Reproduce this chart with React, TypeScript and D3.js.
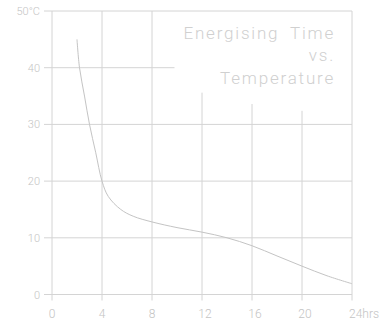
import { useEffect, useRef } from 'react';
import * as d3 from 'd3';

const W = 382, H = 322;
const HOURS = [2, 2.2, 2.6, 3, 3.5, 4, 4.5, 5.5, 6.5, 8, 10, 12, 14, 16, 18, 20, 22, 24];
const TEMPS = [45, 40, 35, 30, 25, 20, 17.3, 15, 13.8, 12.8, 11.8, 11, 10, 8.6, 6.8, 5, 3.3, 1.9];
const X_TICKS = [0, 4, 8, 12, 16, 20, 24];
const X_LABELS = ['0', '4', '8', '12', '16', '20', '24hrs'];
const V_TOPS = [50, 50, 50, 35.6, 33.6, 32.4, 50]; // how far each vertical grid line reaches
const Y_TICKS = [0, 10, 20, 30, 40, 50];
const Y_LABELS = ['0', '10', '20', '30', '40', '50°C'];
const TITLE = ['Energising Time', 'vs.', 'Temperature'];

const GRID = '#d4d4d4', INK = '#c4c4c4';
const FONT = 'Roboto, "DejaVu Sans", sans-serif';

export default function App() {
  const ref = useRef<SVGSVGElement>(null);
  useEffect(() => {
    const svg = d3.select(ref.current); svg.selectAll('*').remove();
    const x = d3.scaleLinear().domain([0, 24]).range([52, 352]);
    const y = d3.scaleLinear().domain([0, 50]).range([294.5, 11]);

    // horizontal grid + left ticks (40 line stops short)
    svg.append('g').selectAll('line').data(Y_TICKS).join('line')
      .attr('x1', x(0) - 8).attr('x2', d => d === 40 ? x(9.8) : x(24))
      .attr('y1', d => y(d)).attr('y2', d => y(d))
      .attr('stroke', GRID).attr('stroke-width', 1);
    // vertical grid + bottom ticks
    svg.append('g').selectAll('line').data(X_TICKS).join('line')
      .attr('x1', d => x(d)).attr('x2', d => x(d))
      .attr('y1', (d, i) => y(V_TOPS[i])).attr('y2', y(0) + 6)
      .attr('stroke', GRID).attr('stroke-width', 1);

    svg.append('g').selectAll('text').data(Y_TICKS).join('text')
      .attr('x', 40).attr('y', d => y(d) + 4).attr('text-anchor', 'end')
      .attr('fill', INK).attr('font-size', 11).attr('font-family', FONT).attr('font-weight', 300)
      .text((d, i) => Y_LABELS[i]);
    svg.append('g').selectAll('text').data(X_TICKS).join('text')
      .attr('x', (d, i) => i === 6 ? x(d) - 3 : x(d) + (d >= 10 ? 3 : 0)).attr('y', 318)
      .attr('text-anchor', (d, i) => i === 6 ? 'start' : 'middle')
      .attr('fill', INK).attr('font-size', 12).attr('font-family', FONT).attr('font-weight', 300)
      .text((d, i) => X_LABELS[i]);

    const line = d3.line<number>().x((d, i) => x(HOURS[i])).y(d => y(d)).curve(d3.curveCatmullRom.alpha(0.5));
    svg.append('path').attr('d', line(TEMPS)).attr('fill', 'none')
      .attr('stroke', INK).attr('stroke-width', 1);

    svg.append('g').selectAll('text').data(TITLE).join('text')
      .attr('x', 335).attr('y', (d, i) => [39, 61, 84][i]).attr('text-anchor', 'end')
      .attr('fill', '#d0d0d0').attr('font-size', 17).attr('font-family', FONT).attr('font-weight', 300)
      .attr('letter-spacing', 1.8).attr('word-spacing', 5)
      .text(d => d);
  }, []);
  return <svg ref={ref} width={W} height={H} style={{ position: 'absolute', left: 0, top: 0, background: '#fff' }} />;
}
